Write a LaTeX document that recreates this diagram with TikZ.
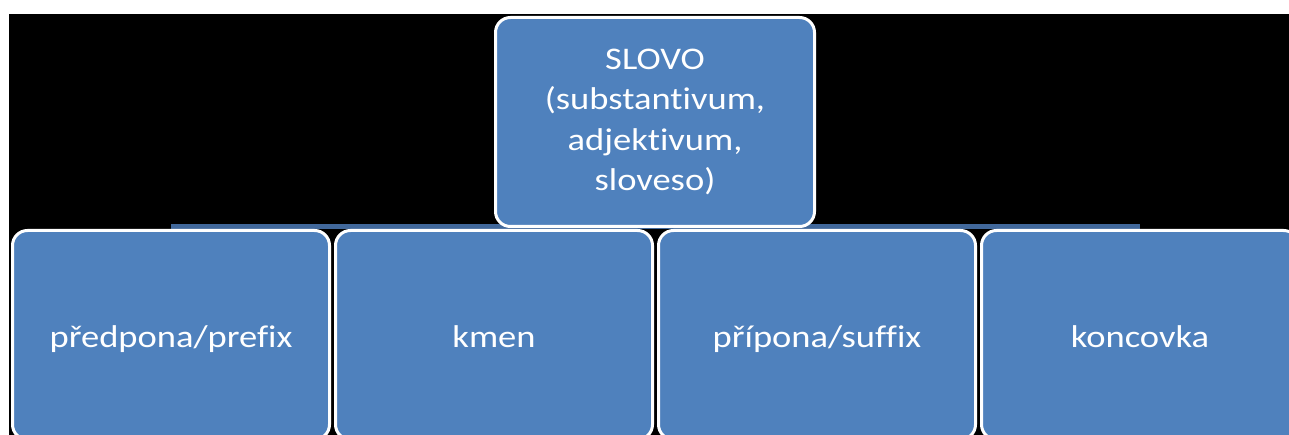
\documentclass[tikz,border=0pt]{standalone}
\usepackage{fontspec}
\usepackage{graphicx}
\setmainfont[Ligatures=NoCommon]{Carlito}
\usetikzlibrary{positioning,backgrounds}
\definecolor{boxblue}{HTML}{4F81BD}
\definecolor{barblue}{HTML}{41689B}
\newcommand{\wide}[1]{\scalebox{1.16}[1]{#1}}
\tikzset{
  partbox/.style={draw=white, line width=3pt, fill=boxblue, rounded corners=15pt,
    text=white, align=center, inner sep=0pt,
    minimum width=317pt, minimum height=209pt,
    font=\fontsize{31.5}{40.3}\selectfont},
  morph/.style={partbox, text height=30pt, text depth=6pt},
  bar/.style={draw=barblue, line width=5pt}
}
\begin{document}
\begin{tikzpicture}[x=1pt, y=-1pt]
  \useasboundingbox (0,0) rectangle (1289,435);
  \clip (0,0) rectangle (1289,435);
  % parent
  \node[partbox, minimum width=319pt] (slovo) at (655,122)
    {\wide{SLOVO}\\\wide{(substantivum,}\\\wide{adjektivum,}\\\wide{sloveso)}};
  % parts of the word
  \node[morph] (predpona) at (171,335) {\wide{předpona/prefix}};
  \node[morph, right=3pt of predpona] (kmen) {\wide{kmen}};
  \node[morph, right=3pt of kmen] (pripona) {\wide{přípona/suffix}};
  \node[morph, right=3pt of pripona] (koncovka) {\wide{koncovka}};
  \begin{pgfonlayer}{background}
    \fill[white] (0,0) rectangle (1289,435);
    \fill[black] (9,14) rectangle (1290,436);
    \draw[bar] ([yshift=2pt]predpona.north) -- ([yshift=2pt]koncovka.north);
  \end{pgfonlayer}
\end{tikzpicture}
\end{document}
